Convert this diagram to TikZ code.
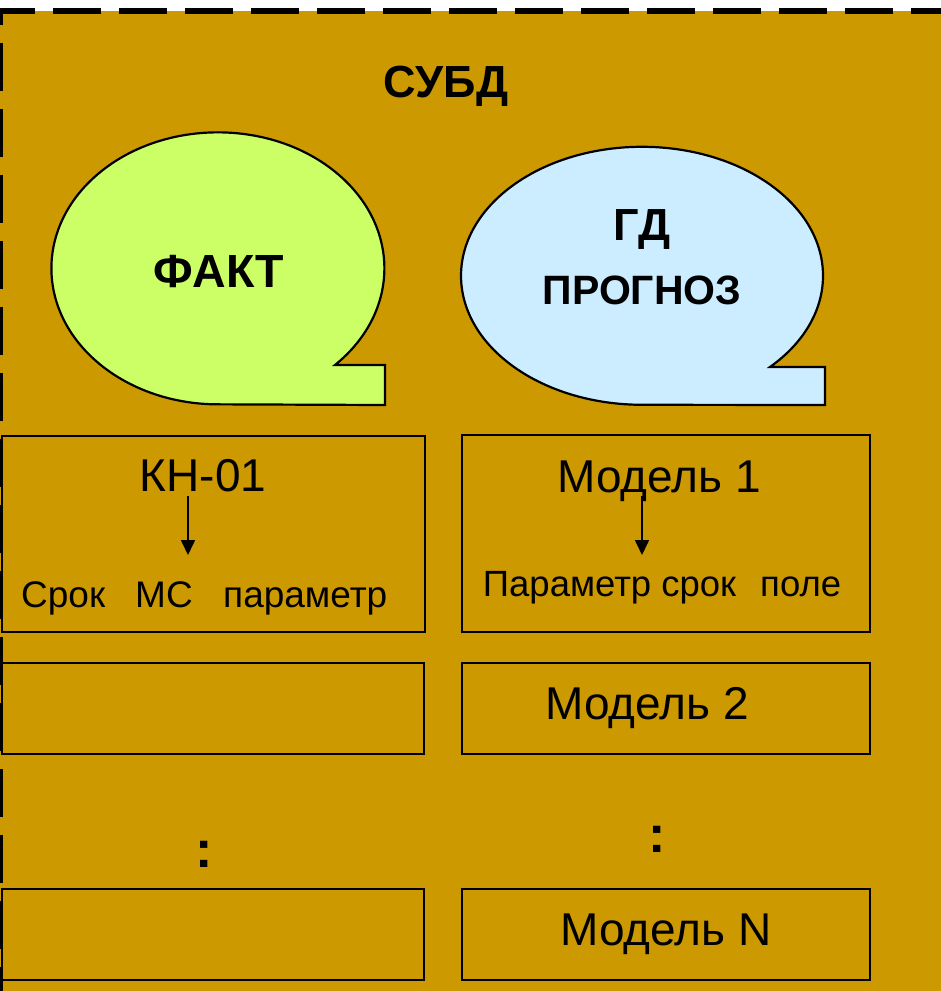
\documentclass[tikz,border=0pt]{standalone}
\usepackage{fontspec}
\setmainfont{Liberation Sans}
\usetikzlibrary{arrows.meta}

\definecolor{dbgold}{HTML}{CC9900}
\definecolor{factgreen}{HTML}{CCFF66}
\definecolor{fcstblue}{HTML}{CCECFF}

\tikzset{
  frameline/.style={line width=6pt, dash pattern=on 48pt off 18pt},
  cell/.style={draw=black, line width=2pt, inner sep=0pt, anchor=north west},
  bubble/.style={draw=black, line width=2.2pt},
  link/.style={line width=1.6pt, -{Triangle[length=15pt,width=14pt]}},
  bigtitle/.style={font=\fontsize{45}{48}\selectfont\bfseries, anchor=base, inner sep=0pt},
  headtxt/.style={font=\fontsize{46.5}{50}\selectfont\bfseries, anchor=base, inner sep=0pt},
  celltxt/.style={font=\fontsize{46}{50}\selectfont, anchor=base, inner sep=0pt},
  fieldtxt/.style={font=\fontsize{37}{40}\selectfont, anchor=base west, inner sep=0pt},
  dots/.style={font=\fontsize{52}{56}\selectfont\bfseries, anchor=base, inner sep=0pt},
}

\begin{document}
\begin{tikzpicture}[x=1pt, y=-1pt]
  \useasboundingbox (0,0) rectangle (941,991);

  % DBMS area with its dashed frame
  \fill[dbgold] (0,11) rectangle (950,1000);
  \draw[frameline, dash phase=13pt] (0,11) -- (945,11);
  \draw[frameline, dash phase=34pt] (0,11) -- (0,995);

  \node[bigtitle] (subd) at (446,97) {СУБД};

  % callout bubbles
  \draw[bubble, fill=factgreen]
    (335,365) arc[start angle=45.3, end angle=-270, x radius=166.5, y radius=136]
    -- (385,405) -- (385,365) -- cycle;
  \draw[bubble, fill=fcstblue]
    (770,367) arc[start angle=45, end angle=-270, x radius=181, y radius=129]
    -- (825,405) -- (825,367) -- cycle;

  \node[headtxt] (fakt) at (219,287) {ФАКТ};
  \node[headtxt, font=\fontsize{45}{48}\selectfont\bfseries] (gd) at (642,240) {ГД};
  \node[headtxt, font=\fontsize{41}{44}\selectfont\bfseries] (prognoz) at (642,304) {ПРОГНОЗ};

  % table cells
  \node[cell, minimum width=423pt, minimum height=196pt] (f1) at (1,435) {};
  \node[cell, minimum width=408pt, minimum height=197pt] (m1) at (461,434) {};
  \node[cell, minimum width=422pt, minimum height=91pt] (f2) at (1,662) {};
  \node[cell, minimum width=408pt, minimum height=91pt] (m2) at (461,662) {};
  \node[cell, minimum width=422pt, minimum height=91pt] (fn) at (1,888) {};
  \node[cell, minimum width=408pt, minimum height=91pt] (mn) at (461,888) {};

  % station table
  \node[celltxt] (kn) at (203,491) {КН-01};
  \coordinate (knarrow) at (188,496);
  \coordinate (knfield) at (188,555);
  \draw[link] (knarrow) -- (knfield);
  \node[fieldtxt] (srok) at (21,607) {Срок};
  \node[fieldtxt] (ms) at (135,607) {МС};
  \node[fieldtxt] (param) at (223,607) {параметр};

  % model tables
  \node[celltxt] (mod1) at (659,492) {Модель 1};
  \coordinate (modarrow) at (642,496);
  \coordinate (modfield) at (642,555);
  \draw[link] (modarrow) -- (modfield);
  \node[fieldtxt, font=\fontsize{36.5}{39}\selectfont, anchor=base] (mfields) at (662,596)
    {Параметр срок\hspace{24pt}поле};
  \node[celltxt] (mod2) at (647,719) {Модель 2};
  \node[celltxt] (modn) at (666,945) {Модель N};

  % continuation marks
  \node[dots] (fdots) at (204,867) {:};
  \node[dots] (mdots) at (657,852) {:};
\end{tikzpicture}
\end{document}
